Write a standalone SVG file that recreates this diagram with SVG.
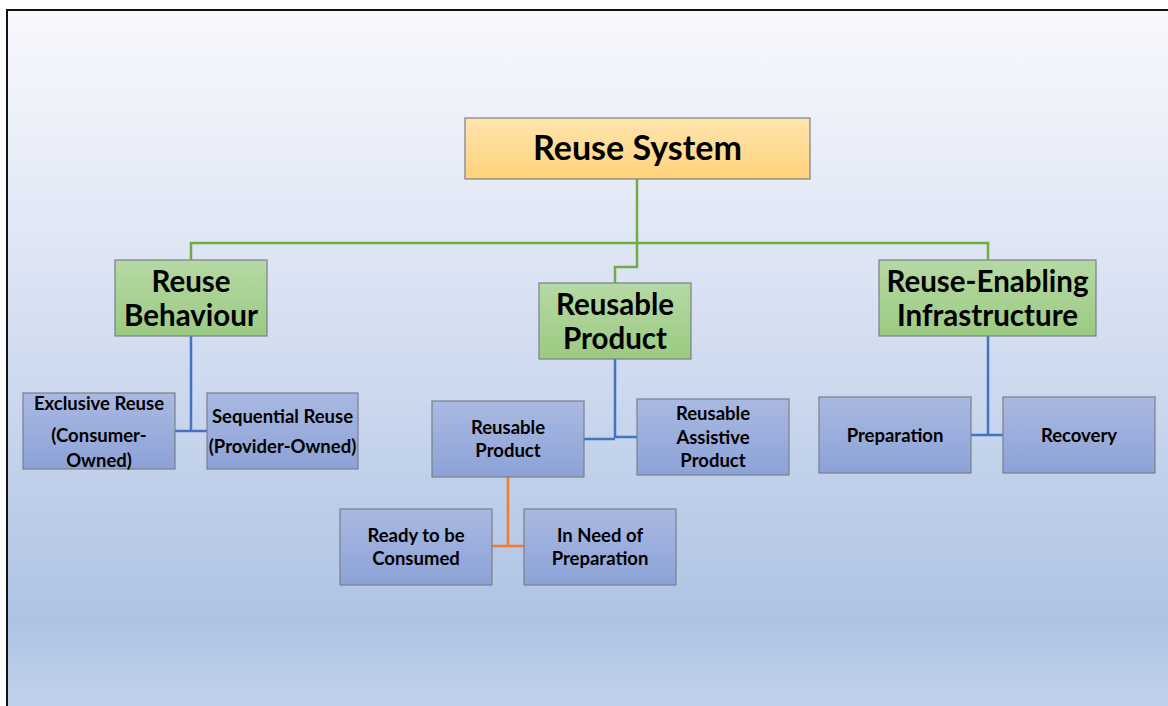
<svg xmlns="http://www.w3.org/2000/svg" width="1168" height="706" viewBox="0 0 1168 706">
  <defs>
    <linearGradient id="bg" x1="0" y1="0" x2="0" y2="1">
      <stop offset="0" stop-color="#f8f9fd"/>
      <stop offset="0.35" stop-color="#dde5f4"/>
      <stop offset="0.86" stop-color="#aec3e4"/>
      <stop offset="1" stop-color="#c3d4ec"/>
    </linearGradient>
    <linearGradient id="gOrange" x1="0" y1="0" x2="0" y2="1">
      <stop offset="0" stop-color="#ffe5ae"/>
      <stop offset="1" stop-color="#ffd27a"/>
    </linearGradient>
    <linearGradient id="gGreen" x1="0" y1="0" x2="0" y2="1">
      <stop offset="0" stop-color="#b6d9a4"/>
      <stop offset="1" stop-color="#9bca82"/>
    </linearGradient>
    <linearGradient id="gBlue" x1="0" y1="0" x2="0" y2="1">
      <stop offset="0" stop-color="#aab9e1"/>
      <stop offset="1" stop-color="#8ca2d7"/>
    </linearGradient>
  </defs>
  <style>
    .box { stroke: #7a7f88; stroke-width: 1.2; }
    .top { fill: url(#gOrange); }
    .mid { fill: url(#gGreen); }
    .leaf { fill: url(#gBlue); }
    text { font-family: Lato, "Open Sans", sans-serif; font-weight: bold; fill: #000; text-anchor: middle; }
    .t1 { font-size: 34px; }
    .t2 { font-size: 29.5px; }
    .t3 { font-size: 18.5px; }
    .lg { stroke: #70ad47; stroke-width: 2.5; fill: none; }
    .lb { stroke: #4472c4; stroke-width: 2.5; fill: none; }
    .lo { stroke: #ed7d31; stroke-width: 2.5; fill: none; }
  </style>

  <!-- slide background with frame -->
  <rect x="7" y="10" width="1170" height="710" fill="url(#bg)" stroke="#111" stroke-width="2"/>

  <!-- connectors -->
  <g id="connectors">
    <path class="lg" d="M637 179 V243 M191 260 V243 H988 V260 M637 243 V267 H615 V283"/>
    <path class="lb" d="M191 336 V431 M175 431 H207"/>
    <path class="lb" d="M615 359 V438 M584 439 H615 M615 437 H637"/>
    <path class="lb" d="M988 336 V435 M971 435 H1003"/>
    <path class="lo" d="M508 477 V546 M492 546 H524"/>
  </g>

  <g id="reuse-system">
    <rect class="box top" x="465" y="118" width="345" height="61"/>
    <text class="t1" x="637.5" y="160">Reuse System</text>
  </g>

  <g id="reuse-behaviour">
    <rect class="box mid" x="115" y="260" width="152" height="76"/>
    <text class="t2" x="191" y="291.5">Reuse</text>
    <text class="t2" x="191" y="325.5">Behaviour</text>
  </g>

  <g id="reusable-product-group">
    <rect class="box mid" x="539" y="283" width="152" height="76"/>
    <text class="t2" x="615" y="314.5">Reusable</text>
    <text class="t2" x="615" y="348.5">Product</text>
  </g>

  <g id="reuse-enabling-infrastructure">
    <rect class="box mid" x="879" y="260" width="217" height="76"/>
    <text class="t2" x="987.5" y="291.5">Reuse-Enabling</text>
    <text class="t2" x="987.5" y="325.5">Infrastructure</text>
  </g>

  <g id="exclusive-reuse">
    <rect class="box leaf" x="23" y="393" width="152" height="76"/>
    <text class="t3" x="99" y="409.5">Exclusive Reuse</text>
    <text class="t3" x="99" y="441.5">(Consumer-</text>
    <text class="t3" x="99" y="466.5">Owned)</text>
  </g>

  <g id="sequential-reuse">
    <rect class="box leaf" x="207" y="393" width="151" height="76"/>
    <text class="t3" x="282.5" y="422.5">Sequential Reuse</text>
    <text class="t3" x="282.5" y="452.5">(Provider-Owned)</text>
  </g>

  <g id="reusable-product">
    <rect class="box leaf" x="432" y="401" width="152" height="76"/>
    <text class="t3" x="508" y="433.5">Reusable</text>
    <text class="t3" x="508" y="456.5">Product</text>
  </g>

  <g id="reusable-assistive-product">
    <rect class="box leaf" x="637" y="399" width="152" height="76"/>
    <text class="t3" x="713" y="419.5">Reusable</text>
    <text class="t3" x="713" y="443.5">Assistive</text>
    <text class="t3" x="713" y="466.5">Product</text>
  </g>

  <g id="preparation">
    <rect class="box leaf" x="819" y="397" width="152" height="76"/>
    <text class="t3" x="895" y="442">Preparation</text>
  </g>

  <g id="recovery">
    <rect class="box leaf" x="1003" y="397" width="152" height="76"/>
    <text class="t3" x="1079" y="442">Recovery</text>
  </g>

  <g id="ready-to-be-consumed">
    <rect class="box leaf" x="340" y="509" width="152" height="76"/>
    <text class="t3" x="416" y="541.5">Ready to be</text>
    <text class="t3" x="416" y="564.5">Consumed</text>
  </g>

  <g id="in-need-of-preparation">
    <rect class="box leaf" x="524" y="509" width="152" height="76"/>
    <text class="t3" x="600" y="541.5">In Need of</text>
    <text class="t3" x="600" y="564.5">Preparation</text>
  </g>
</svg>
